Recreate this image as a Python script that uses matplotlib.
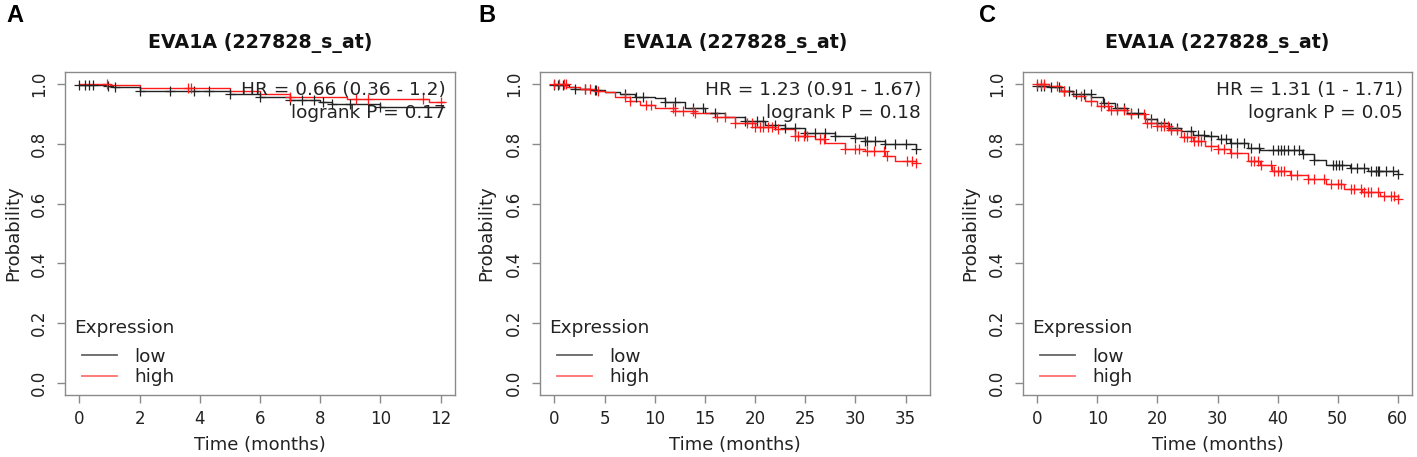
import numpy as np
import matplotlib
matplotlib.use("Agg")
import matplotlib.pyplot as plt

plt.rcParams['font.family'] = ['DejaVu Sans']

# ---------------- data ----------------
panel_letters = ["A", "B", "C"]
titles = ["EVA1A (227828_s_at)"] * 3
hr_texts = ["HR = 0.66 (0.36 - 1.2)", "HR = 1.23 (0.91 - 1.67)", "HR = 1.31 (1 - 1.71)"]
p_texts = ["logrank P = 0.17", "logrank P = 0.18", "logrank P = 0.05"]
x_ticks = [list(range(0, 13, 2)), list(range(0, 36, 5)), list(range(0, 61, 10))]
x_max = [12, 36, 60]
y_ticks = [0.0, 0.2, 0.4, 0.6, 0.8, 1.0]
legend_title = "Expression"
legend_labels = ["low", "high"]

# Panel A
a_low_t = [0, 0.9, 1.1, 2.0, 5.0, 6.0, 7.0, 8.0, 8.4, 10.0, 12.1]
a_low_s = [0.997, 0.993, 0.989, 0.978, 0.968, 0.958, 0.948, 0.940, 0.932, 0.924, 0.924]
a_high_t = [0, 1.0, 2.0, 5.0, 6.0, 7.0, 8.9, 11.6, 12.1]
a_high_s = [1.0, 0.995, 0.988, 0.975, 0.965, 0.955, 0.950, 0.940, 0.940]
a_low_c = [0, 0.17, 0.33, 0.44, 0.94, 1.17, 2.0, 3.0, 3.8, 4.3, 5.0, 6.0, 7.0, 7.4,
           7.8, 8.1, 8.4, 9.0, 10.0]
a_high_c = [0.9, 3.6, 3.7, 7.0, 9.2, 9.6, 11.4, 12.0]

# Panel B
b_low_t = [0, 1.5, 2, 3.5, 5, 6.5, 8, 10, 11, 13, 15, 17, 19, 21, 23, 25, 28, 30, 31, 33, 36]
b_low_s = [0.995, 0.989, 0.983, 0.98, 0.974, 0.966, 0.957, 0.952, 0.94, 0.919, 0.904,
           0.888, 0.876, 0.862, 0.854, 0.837, 0.826, 0.82, 0.809, 0.798, 0.781]
b_high_t = [0, 1.2, 2.5, 4, 5, 6, 7.5, 8.5, 10, 12, 14, 16, 18, 20, 22, 24, 26, 27, 29,
            31, 33, 34, 36]
b_high_s = [1.0, 0.991, 0.983, 0.978, 0.972, 0.957, 0.944, 0.929, 0.919, 0.91, 0.902,
            0.888, 0.869, 0.857, 0.851, 0.826, 0.817, 0.803, 0.784, 0.775, 0.758, 0.742, 0.736]
b_low_c = [0, 0.33, 0.83, 2.0, 3.0, 4.0, 4.17, 7.0, 8.17, 8.83, 11.0, 12.0, 13.83, 14.83,
           16.0, 19.0, 20.17, 20.83, 22.0, 23.0, 24.0, 25.0, 26.0, 27.0, 28.0, 30.0, 31.0,
           31.17, 32.0, 33.0, 34.0, 35.0, 36.0]
b_high_c = [0, 0.5, 1.0, 1.17, 3.0, 3.5, 4.33, 7.0, 7.5, 9.17, 9.67, 11.83, 12.0, 12.83,
            13.83, 14.0, 16.17, 17.0, 18.0, 19.17, 19.67, 20.0, 20.5, 20.83, 21.33, 21.67,
            22.33, 24.0, 24.33, 24.83, 25.17, 26.5, 26.83, 29.0, 30.0, 30.33, 31.17, 31.83,
            32.83, 33.17, 35.17, 35.67, 36.0]

# Panel C
c_low_t = [0, 2, 4, 6, 9, 11, 13, 15, 18, 20, 22, 24, 26, 28, 30, 32, 35, 37, 42, 44, 46,
           48, 52, 55, 60]
c_low_s = [0.993, 0.989, 0.978, 0.966, 0.955, 0.938, 0.921, 0.904, 0.882, 0.869, 0.854,
           0.843, 0.831, 0.826, 0.817, 0.801, 0.787, 0.779, 0.779, 0.767, 0.747, 0.728,
           0.719, 0.71, 0.70]
c_high_t = [0, 2, 4, 6, 8, 10, 12, 15, 18, 20, 22, 24, 26, 28, 30, 32, 35, 37, 39, 42, 45,
            48, 51, 54, 57, 60]
c_high_s = [1.0, 0.992, 0.978, 0.961, 0.942, 0.925, 0.913, 0.899, 0.871, 0.86, 0.846,
            0.824, 0.809, 0.792, 0.783, 0.77, 0.742, 0.728, 0.709, 0.697, 0.681, 0.664,
            0.649, 0.638, 0.627, 0.615]
c_low_c = [0, 0.6, 1.1, 2.2, 3.6, 4.4, 5.3, 6.4, 7.8, 8.9, 11.1, 13.3, 14.4, 15.6, 16.7,
           18.9, 20.0, 21.1, 22.2, 23.3, 25.6, 26.7, 27.8, 28.9, 30.6, 31.4, 32.2, 33.3,
           34.4, 35.6, 36.9, 39.2, 40.0, 40.6, 41.1, 41.7, 42.8, 43.6, 44.2, 46.1, 49.2,
           49.7, 50.3, 50.8, 52.2, 53.3, 54.4, 55.6, 56.4, 56.7, 56.9, 58.1, 59.2, 60.0]
c_high_c = [0, 0.6, 1.1, 3.3, 4.4, 7.2, 8.9, 10.6, 11.7, 12.2, 13.3, 14.4, 15.6, 17.8,
            18.3, 18.9, 20.0, 20.6, 21.1, 21.7, 22.2, 23.3, 24.4, 25.0, 25.6, 26.1, 26.7,
            27.2, 28.9, 30.0, 31.1, 32.2, 33.3, 35.6, 36.1, 36.7, 37.2, 38.9, 39.4, 40.0,
            40.6, 41.1, 42.2, 43.3, 45.0, 46.1, 47.8, 48.9, 50.0, 50.6, 52.2, 52.8, 53.9,
            54.4, 55.0, 55.6, 56.7, 57.8, 58.9, 59.4, 60.0]

panels = [
    (a_low_t, a_low_s, a_low_c, a_high_t, a_high_s, a_high_c),
    (b_low_t, b_low_s, b_low_c, b_high_t, b_high_s, b_high_c),
    (c_low_t, c_low_s, c_low_c, c_high_t, c_high_s, c_high_c),
]

# ---------------- layout ----------------
W, H = 1417, 457
fig = plt.figure(figsize=(W / 100, H / 100), dpi=100)
axes_px = [(65, 455), (540, 930), (1023, 1412)]
ylabel_px = [13, 486, 970]
ax_top, ax_bot = 72, 395
letter_px = [(15, 16), (487, 16), (988, 16)]

LOW_COL = "#222222"
HIGH_COL = "#ff1a1a"
LEG_LOW = "#666666"
LEG_HIGH = "#ff7070"
FRAME = "#8a8a8a"
TXT = "#222222"


def step_value(t, s, c):
    t = np.asarray(t, float)
    s = np.asarray(s, float)
    idx = np.searchsorted(t, np.asarray(c, float), side="right") - 1
    idx = np.clip(idx, 0, len(s) - 1)
    return s[idx]


for i, (lt, ls, lc, ht, hs, hc) in enumerate(panels):
    x0, x1 = axes_px[i]
    ax = fig.add_axes([x0 / W, 1 - ax_bot / H, (x1 - x0) / W, (ax_bot - ax_top) / H])
    hw = (x1 - x0)
    hh = (ax_bot - ax_top)

    l_line, = ax.step(lt, ls, where="post", color=LOW_COL, lw=1.0, label=legend_labels[0])
    h_line, = ax.step(ht, hs, where="post", color=HIGH_COL, lw=1.0, label=legend_labels[1])
    ax.plot(lc, step_value(lt, ls, lc), ls="none", marker="+", ms=6.5, mew=0.9, color=LOW_COL)
    ax.plot(hc, step_value(ht, hs, hc), ls="none", marker="+", ms=6.5, mew=0.9, color=HIGH_COL)

    xm = x_max[i]
    ax.set_xlim(-0.04 * xm, 1.04 * xm)
    ax.set_ylim(-0.04, 1.04)
    ax.set_xticks(x_ticks[i])
    ax.set_yticks(y_ticks)
    ax.set_yticklabels([f"{v:.1f}" for v in y_ticks])

    for sp in ax.spines.values():
        sp.set_color(FRAME)
        sp.set_linewidth(1.0)
    ax.tick_params(direction="out", length=6, width=1.0, color=FRAME,
                   labelcolor=TXT, labelsize=12)
    ax.tick_params(axis="x", pad=5)
    ax.tick_params(axis="y", labelrotation=90, pad=6)
    for lab in ax.get_yticklabels():
        lab.set_va("center")

    ax.set_xlabel("Time (months)", fontsize=13, color=TXT)
    ax.set_ylabel("Probability", fontsize=13, color=TXT, va="center")
    ax.xaxis.set_label_coords(0.5, -(445 - ax_bot) / hh)
    ax.xaxis.label.set_va("center")
    ax.yaxis.set_label_coords(-(x0 - ylabel_px[i]) / hw, 0.5)

    ax.text(0.5, 1 + 29 / hh, titles[i], transform=ax.transAxes, ha="center",
            va="center", fontsize=13.7, fontweight="bold", color="#111111")
    ax.text(1 - 9 / hw, 1 - 18 / hh, hr_texts[i], transform=ax.transAxes, ha="right",
            va="center", fontsize=13.3, color=TXT)
    ax.text(1 - 9 / hw, 1 - 41 / hh, p_texts[i], transform=ax.transAxes, ha="right",
            va="center", fontsize=13.3, color=TXT)

    # legend
    ax.text(9 / hw, (ax_bot - 328) / hh, legend_title, transform=ax.transAxes,
            ha="left", va="center", fontsize=13.3, color=TXT)
    leg = ax.legend(handles=[l_line, h_line], loc="lower left",
                    bbox_to_anchor=(17 / hw, 9 / hh), frameon=False, fontsize=13.3,
                    handlelength=1.9, handletextpad=0.95, labelspacing=0.12,
                    borderpad=0, borderaxespad=0)
    for txt in leg.get_texts():
        txt.set_color(TXT)
    for hnd, col in zip(leg.legend_handles, [LEG_LOW, LEG_HIGH]):
        hnd.set_color(col)
        hnd.set_linewidth(1.3)

    lx, ly = letter_px[i]
    fig.text(lx / W, 1 - ly / H, panel_letters[i], ha="center", va="center",
             fontsize=17, fontweight="bold", family=["Liberation Sans", "DejaVu Sans"])

fig.savefig("out.png", dpi=100)
